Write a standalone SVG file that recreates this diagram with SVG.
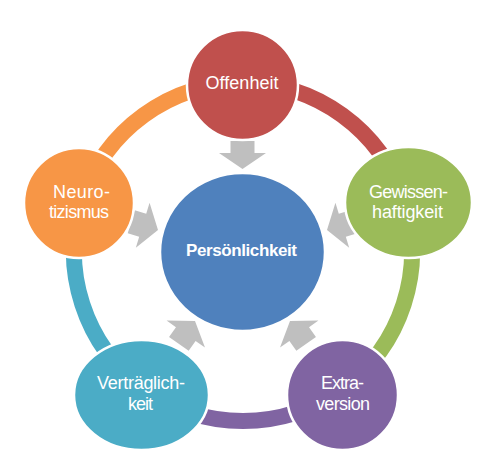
<svg xmlns="http://www.w3.org/2000/svg" width="503" height="463" viewBox="0 0 503 463">
<defs>
<style>
.ring{fill:none;stroke-width:16}
.node{stroke:#fff;stroke-width:2.5}
.arrow{fill:#BFBFBF}
.lbl{font-family:"Liberation Sans","Noto Sans",Arial,sans-serif;font-size:18px;fill:#fff;text-anchor:middle}
.main{font-weight:bold;font-size:17px}
</style>
<path id="arr" d="M0,0 L-16,-23.5 L-16,-12 L-28,-12 L-28,12 L-16,12 L-16,23.5 Z"/>
</defs>
<rect width="503" height="463" fill="#fff"/>
<g id="connectors">
<path class="ring" stroke="#C0504D" d="M243,83 A169,169 0 0 1 403.7,199.8"/>
<path class="ring" stroke="#9BBB59" d="M403.7,199.8 A169,169 0 0 1 342.3,388.7"/>
<path class="ring" stroke="#8064A2" d="M342.3,388.7 A169,169 0 0 1 143.7,388.7"/>
<path class="ring" stroke="#4BACC6" d="M143.7,388.7 A169,169 0 0 1 82.3,199.8"/>
<path class="ring" stroke="#F79646" d="M82.3,199.8 A169,169 0 0 1 243,83"/>
<use href="#arr" class="arrow" transform="translate(242.5,169) rotate(90)"/>
<use href="#arr" class="arrow" transform="translate(158,230) rotate(17)"/>
<use href="#arr" class="arrow" transform="translate(327,230) rotate(163)"/>
<use href="#arr" class="arrow" transform="translate(195,321) rotate(-54.8)"/>
<use href="#arr" class="arrow" transform="translate(290,321) rotate(-125.2)"/>
</g>
<g id="node-persoenlichkeit">
<ellipse class="node" cx="242.5" cy="252" rx="82.5" ry="79" fill="#4F81BD"/>
<text class="lbl main" x="241.5" y="256" textLength="111">Persönlichkeit</text>
</g>
<g id="node-offenheit">
<ellipse class="node" cx="242.5" cy="85" rx="55.5" ry="55" fill="#C0504D"/>
<text class="lbl" x="242" y="89" textLength="73">Offenheit</text>
</g>
<g id="node-gewissenhaftigkeit">
<ellipse class="node" cx="408.5" cy="202.5" rx="63.5" ry="55.5" fill="#9BBB59"/>
<text class="lbl" x="408.5" y="198" textLength="79">Gewissen-</text>
<text class="lbl" x="407.5" y="218" textLength="71">haftigkeit</text>
</g>
<g id="node-extraversion">
<ellipse class="node" cx="342.5" cy="395" rx="55.5" ry="55" fill="#8064A2"/>
<text class="lbl" x="342.5" y="389" textLength="43">Extra-</text>
<text class="lbl" x="343" y="410" textLength="54">version</text>
</g>
<g id="node-vertraeglichkeit">
<ellipse class="node" cx="141.5" cy="395" rx="67.5" ry="55" fill="#4BACC6"/>
<text class="lbl" x="141" y="389" textLength="88">Verträglich-</text>
<text class="lbl" x="140.5" y="410" textLength="25">keit</text>
</g>
<g id="node-neurotizismus">
<ellipse class="node" cx="79" cy="203" rx="55" ry="55" fill="#F79646"/>
<text class="lbl" x="81.5" y="198" textLength="57">Neuro-</text>
<text class="lbl" x="79" y="218" textLength="60">tizismus</text>
</g>
</svg>
